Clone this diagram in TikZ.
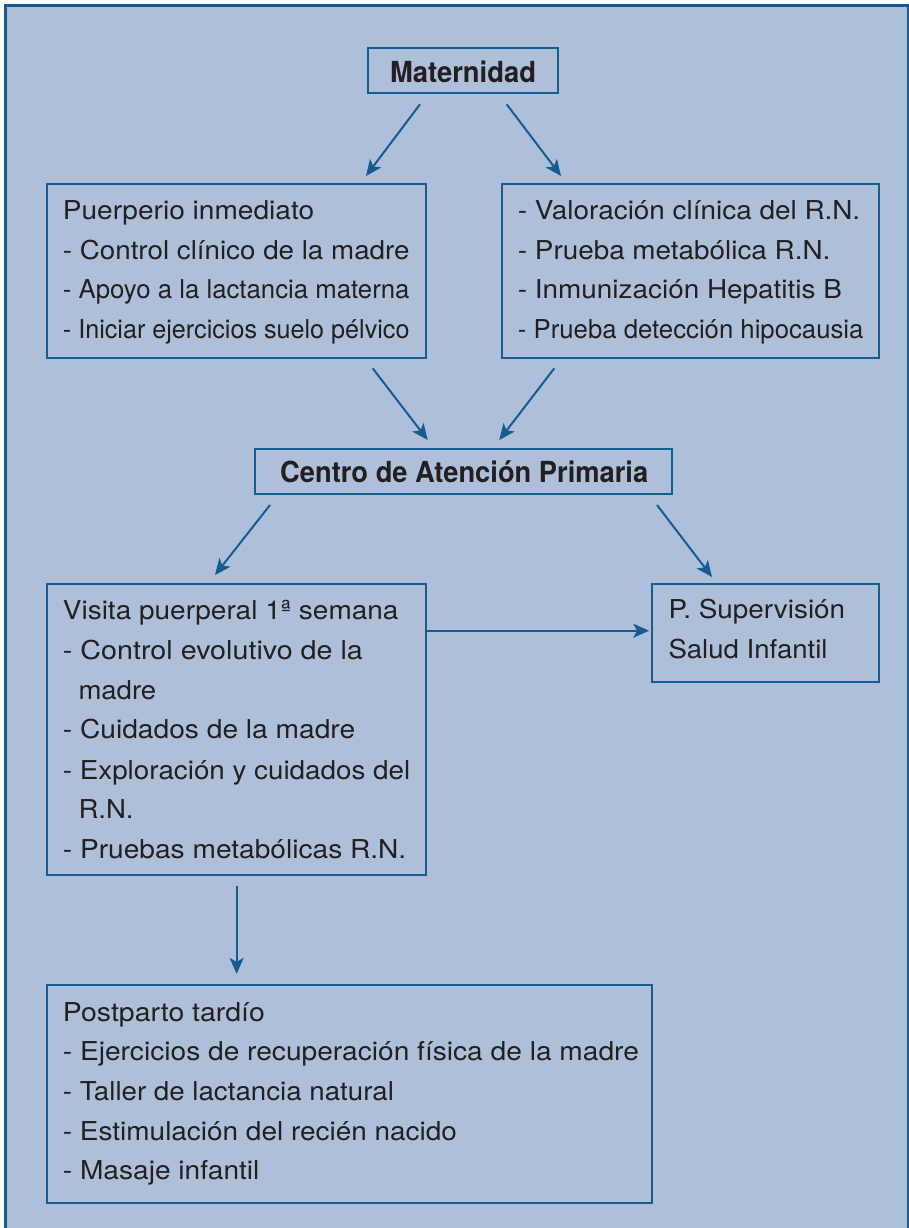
\documentclass[tikz,border=0pt]{standalone}
\usepackage{fontspec}
\setmainfont{TeX Gyre Heros}
\usepackage{graphicx}
\usetikzlibrary{arrows.meta}
\definecolor{bg}{RGB}{174,192,217}
\definecolor{ln}{RGB}{22,92,145}
\definecolor{tx}{RGB}{35,31,32}
\newcommand{\fw}[2]{\resizebox{#1pt}{\height}{#2}}
\begin{document}
\begin{tikzpicture}[x=1pt,y=-1pt,
  box/.style={draw=ln, line width=2.2pt, inner sep=0pt},
  txt/.style={anchor=base west, inner sep=0pt, text=tx, font=\fontsize{26}{30}\selectfont},
  ttl/.style={anchor=base, inner sep=0pt, text=tx, font=\fontsize{29}{32}\selectfont\bfseries},
  arr/.style={draw=ln, line width=2pt, -{Stealth[length=16pt,width=14pt,inset=4pt]}}]
\useasboundingbox (0,0) rectangle (909,1228);
\fill[white] (0,0) rectangle (909,1228);
\fill[bg] (4,4) rectangle (909,1228);
\draw[ln, line width=3.2pt] (5.6,1228) -- (5.6,5.6) -- (909,5.6);
\draw[ln, line width=1.5pt] (908.2,5.6) -- (908.2,1228);

% boxes
\node[box, minimum width=190pt, minimum height=45pt] (mat) at (463.3,70.8) {};
\node[box, minimum width=378.7pt, minimum height=173.7pt] (pue) at (236.65,270.85) {};
\node[box, minimum width=377.3pt, minimum height=173.7pt] (val) at (690.35,270.85) {};
\node[box, minimum width=416.7pt, minimum height=44.7pt] (cap) at (463.35,471.65) {};
\node[box, minimum width=378.7pt, minimum height=291pt] (vis) at (236.65,729.5) {};
\node[box, minimum width=226.7pt, minimum height=97.7pt] (sup) at (765.65,632.85) {};
\node[box, minimum width=605.3pt, minimum height=218pt] (pos) at (349.35,1094) {};

% titles
\node[ttl] (matt) at (463,82.7) {\fw{146}{Maternidad}};
\node[ttl] (capt) at (464.2,482.7) {\fw{368}{Centro de Atención Primaria}};

% Puerperio
\node[txt] (pue1) at (62.7,219.3) {\fw{251.3}{Puerperio inmediato}};
\node[txt] (pue2) at (62.7,259) {\fw{346.6}{- Control clínico de la madre}};
\node[txt] (pue3) at (62.7,298.5) {\fw{346.6}{- Apoyo a la lactancia materna}};
\node[txt] (pue4) at (62.7,338.3) {\fw{346.6}{- Iniciar ejercicios suelo pélvico}};

% Valoracion
\node[txt] (val1) at (517.7,219.3) {\fw{342.3}{- Valoración clínica del R.N.}};
\node[txt] (val2) at (517.7,259) {\fw{312.3}{- Prueba metabólica R.N.}};
\node[txt] (val3) at (517.7,298.5) {\fw{324}{- Inmunización Hepatitis B}};
\node[txt] (val4) at (517.7,338.3) {\fw{345.6}{- Prueba detección hipocausia}};

% Visita
\node[txt] (vis1) at (62.7,619.3) {\fw{335.6}{Visita puerperal 1ª semana}};
\node[txt] (vis2) at (62.7,659) {\fw{300}{- Control evolutivo de la}};
\node[txt] (vis3) at (78.3,699) {\fw{77.7}{madre}};
\node[txt] (vis4) at (62.7,738.3) {\fw{292.3}{- Cuidados de la madre}};
\node[txt] (vis5) at (62.7,779) {\fw{347.3}{- Exploración y cuidados del}};
\node[txt] (vis6) at (78.3,818.3) {\fw{55}{R.N.}};
\node[txt] (vis7) at (62.7,858.3) {\fw{343.3}{- Pruebas metabólicas R.N.}};

% Supervision
\node[txt] (sup1) at (668.3,618.3) {\fw{176.7}{P. Supervisión}};
\node[txt] (sup2) at (668.3,658.3) {\fw{159}{Salud Infantil}};

% Postparto
\node[txt] (pos1) at (62.7,1021.7) {\fw{202}{Postparto tardío}};
\node[txt] (pos2) at (62.7,1060.7) {\fw{576}{- Ejercicios de recuperación física de la madre}};
\node[txt] (pos3) at (62.7,1100) {\fw{331}{- Taller de lactancia natural}};
\node[txt] (pos4) at (62.7,1140) {\fw{394}{- Estimulación del recién nacido}};
\node[txt] (pos5) at (62.7,1179.3) {\fw{196.5}{- Masaje infantil}};

% arrow end points
\coordinate (m1s) at (420,104.3);   \coordinate (m1e) at (366,176);
\coordinate (m2s) at (506.7,104.3); \coordinate (m2e) at (561,176);
\coordinate (c1s) at (372.7,368.3); \coordinate (c1e) at (427.7,440);
\coordinate (c2s) at (554.3,368.3); \coordinate (c2e) at (499.3,440);
\coordinate (p1s) at (270,505);     \coordinate (p1e) at (215,575);
\coordinate (p2s) at (657,505);     \coordinate (p2e) at (712,577);
\coordinate (h) at (0,630.7);

\draw[arr] (m1s) -- (m1e);
\draw[arr] (m2s) -- (m2e);
\draw[arr] (c1s) -- (c1e);
\draw[arr] (c2s) -- (c2e);
\draw[arr] (p1s) -- (p1e);
\draw[arr] (p2s) -- (p2e);
\draw[arr, shorten >=2pt] (vis.east |- h) -- (sup.west |- h);
\draw[arr, shorten <=10pt, shorten >=10pt] (vis.south) -- (vis.south |- pos.north);
\end{tikzpicture}
\end{document}
